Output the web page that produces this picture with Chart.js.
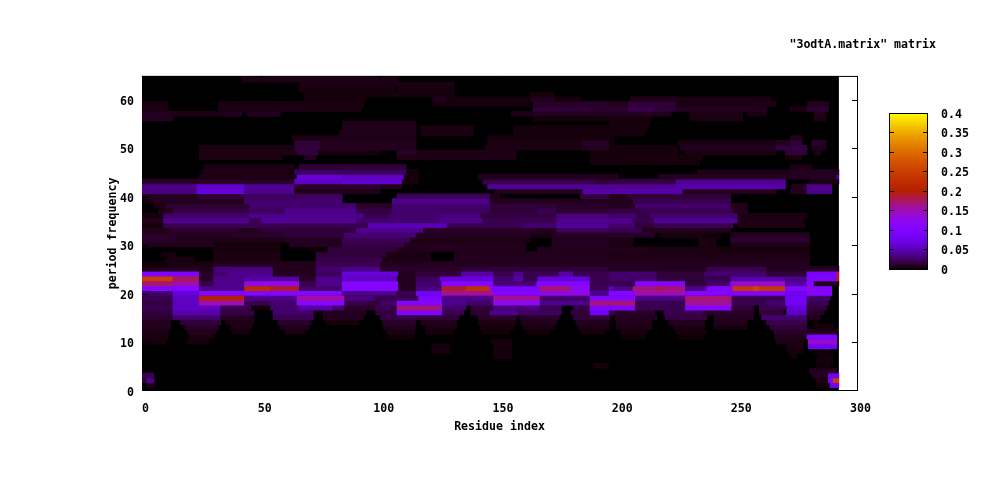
<!DOCTYPE html>
<html>
<head>
<meta charset="utf-8">
<title>3odtA.matrix</title>
<script src="https://cdn.jsdelivr.net/npm/chart.js@4"></script>
<style>
  body { margin: 0; background: #fff; }
  #heatmap { position: absolute; left: 0; top: 0; }
  #colorbox { position: absolute; left: 880px; top: 90px; }
</style>
</head>
<body>
<canvas id="heatmap" width="1000" height="480"></canvas>
<canvas id="colorbox" width="120" height="200"></canvas>
<script>
const chartTitle = '"3odtA.matrix" matrix';
const xTitle = 'Residue index';
const yTitle = 'period frequency';
const xTicks = [0, 50, 100, 150, 200, 250, 300];
const yTicks = [0, 10, 20, 30, 40, 50, 60];
const cbTicks = [0, 0.05, 0.1, 0.15, 0.2, 0.25, 0.3, 0.35, 0.4];
const residueEnd = 292.4;

// one list per period frequency: [first residue, last residue, value]
const p0 = [[0,1,0]];
const p1 = [[2,5,.008],[283,287.3,.003],[288.7,292.4,.08]];
const p2 = [[0,2,.014],[2,5,.036],[283,288,.005],[288,290,.098],[290,292.4,.25]];
const p3 = [[0,5,.02],[281,288,.008],[288,292.4,.08]];
const p4 = [[280,291.5,.008]];
const p5 = [[189.4,195.7,.003],[283,288.7,.002]];
const p6 = [[283,290,.003]];
const p7 = [[147.5,155,.003],[272,274.7,.002],[284,290,.002]];
const p8 = [[121.6,129.3,.003],[147.5,155,.003],[271,277,.003],[282,288.7,.002]];
const p9 = [[121.6,129.3,.003],[147.5,155,.003],[270.5,277.5,.004],[279.6,291.5,.08]];
const p10 = [[0,10,.003],[19,28,.003],[146.7,155,.003],[266,277.5,.005],[279.6,291.5,.14]];
const p11 = [[0,11,.004],[20,30,.004],[103.4,114,.002],[201,211,.002],[225,235.5,.002],[265.6,279,.007],[279,291.5,.098]];
const p12 = [[0,11,.005],[19,31,.007],[38,45,.003],[60,68,.004],[102.7,114.6,.004],[119,130.7,.003],[143,154,.002],[161.4,171,.002],[184,194,.003],[200.6,212,.003],[224,237,.003],[265,279,.01],[279,292,.007]];
const p13 = [[0,12,.007],[18,32,.01],[37,46,.004],[58,70,.007],[101.3,114.6,.007],[119,132,.004],[142,156,.003],[160,173,.004],[183,196,.005],[199,214,.005],[223,236,.004],[240,254,.003],[263.5,279,.014],[282,290,.003]];
const p14 = [[0,12,.008],[16,33,.015],[35,47,.005],[57,71,.011],[77,91,.003],[101,115,.01],[117,132,.007],[141,157,.005],[159,174,.007],[182,196,.008],[199,214,.007],[221,236,.008],[240,254,.007],[262,279,.02],[282,284,.003]];
const p15 = [[0,13,.012],[13,33,.028],[33,47,.008],[55,72,.02],[76,93,.007],[100,116,.017],[116,133,.014],[141,157,.01],[158.6,175,.01],[181,196.4,.014],[198.5,216,.008],[219.5,237,.017],[240,256.5,.008],[260,279,.028],[280,284.5,.008]];
const p16 = [[0,13,.015],[13,33,.045],[33,47,.017],[55,72,.028],[72,76,.002],[76,94,.008],[98,107,.017],[107,126,.098],[126,135,.02],[138,146,.012],[146,158,.036],[158,176,.024],[180,188,.014],[188,196,.08],[196,198.5,.02],[198.5,215,.01],[219,235.5,.02],[236,256.5,.01],[259,269,.014],[270.5,279,.055],[279,286,.01]];
const p17 = [[0,13,.02],[13,33,.055],[33,46,.02],[46,54,.002],[54,66,.028],[66,80,.045],[80,85,.028],[85,98,.01],[98,107,.02],[107,126,.17],[126,136,.028],[138,147.5,.014],[147.5,167,.032],[167,176,.02],[181,188,.017],[188,207,.098],[207,228,.02],[228,247.5,.105],[247.5,256.5,.014],[259,270,.02],[270.5,279,.065],[279,287.3,.014]];
const p18 = [[0,13,.017],[13,24,.055],[24,43,.15],[43,54,.02],[54,65,.028],[65,85,.108],[85,95,.02],[95,100,.014],[100,107,.028],[107,126,.105],[126,136,.036],[136,147.5,.028],[147.5,167,.12],[167,178,.036],[178,188,.036],[188,207,.17],[207,228,.02],[228,247.5,.16],[247.5,262,.02],[262,270,.028],[270,279,.08],[279,288,.02]];
const p19 = [[0,13,.02],[13,24,.055],[24,43,.2],[43,65,.036],[65,85,.155],[85,98,.032],[98,116,.02],[116,125.8,.098],[125.8,147.5,.036],[147.5,167,.16],[167,188,.028],[188,207,.105],[207,228,.036],[228,247.5,.17],[247.5,270,.02],[270,279,.08],[279,288.7,.028]];
const p20 = [[0,13,.028],[13,24,.065],[24,84,.105],[84,107,.036],[107,115,.02],[115,125.8,.08],[125.8,147.5,.16],[147.5,167,.105],[167,188,.125],[188,196,.036],[196,207,.105],[207,228,.15],[228,270,.105],[270,279,.08],[279,289.4,.105]];
const p21 = [[0,24,.105],[24,43,.036],[43,54,.22],[54,66,.19],[66,84,.028],[84,107.6,.105],[107.6,115,.008],[115,125.8,.032],[125.8,136,.19],[136,146,.23],[146,147.5,.105],[147.5,167,.098],[167,180,.17],[180,188,.12],[188,196,.024],[196,198,.055],[198,206,.036],[206,228,.17],[216,218,.185],[228,237,.036],[237,248,.105],[248,270,.24],[256.5,259,.26],[270,279,.105],[279,280.5,.14],[280.5,289.4,.105]];
const p22 = [[0,13,.17],[13,24,.15],[24,30,.02],[30,43,.036],[43,66,.13],[66,73,.02],[73,84,.036],[84,107.6,.105],[107.6,115,.008],[115,125.8,.028],[125.8,147.5,.105],[147.5,165.6,.032],[165.6,188,.105],[188,207,.02],[207,228,.105],[228,237,.014],[237,247,.028],[247,270,.14],[270,279,.045],[279,282,.105],[282,292.4,.007]];
const p23 = [[0,13,.25],[13,24,.18],[24,30,.01],[30,43,.036],[43,66,.045],[66,73,.01],[73,84,.036],[84,107,.055],[107,115,.008],[115,125,.024],[125,147.5,.065],[147.5,156,.028],[156,160,.045],[160,166,.02],[166,188,.065],[188,196,.02],[196,216,.028],[216,236,.014],[236,247,.02],[247,270,.045],[270,279,.036],[279,291.5,.098],[291.5,292.4,.2]];
const p24 = [[0,24,.098],[24,30,.01],[30,36,.028],[36,55,.036],[55,73,.008],[73,84,.024],[84,107.6,.065],[107.6,115,.008],[115,134,.014],[134,147.5,.045],[147.5,156,.02],[156,160,.036],[160,175,.02],[175,181,.045],[181,196,.02],[196,216,.028],[216,236,.014],[236,262,.028],[262,279,.014],[279,291.5,.09],[291.5,292.4,.18]];
const p25 = [[0,7,.005],[7,30,.007],[30,55,.032],[55,73,.007],[73,84,.028],[84,100,.036],[100,134,.01],[134,196,.014],[196,237,.008],[237,262,.02],[262,292.4,.008]];
const p26 = [[0,10,.002],[10,30,.004],[30,56,.008],[56,73,.007],[73,100,.02],[100,280,.008]];
const p27 = [[10,22,.004],[30,58,.005],[73,101,.019],[101,121,.005],[131,196,.008],[196,280,.007]];
const p28 = [[8,14,.003],[30,58,.004],[73,102.7,.014],[102.7,121,.004],[131,196,.007],[196,280,.005]];
const p29 = [[30,58,.003],[70,78,.001],[78,107,.015],[107,161,.007],[166,212,.007],[212,243,.004],[243,280,.003]];
const p30 = [[0,30,.007],[30,58,.003],[62,84,.008],[84,110,.018],[110,161,.007],[172,196,.008],[196,206,.004],[233.5,241,.004],[247,280,.005]];
const p31 = [[0,14,.01],[14,30,.007],[30,60,.005],[60,84,.008],[84,112.5,.022],[112.5,163,.005],[172,196,.008],[196,206,.005],[233.5,241,.004],[247,280,.012]];
const p32 = [[0,15,.01],[15,38,.008],[38,60,.01],[60,85,.014],[85,115,.03],[115,163,.008],[163,172.6,.004],[172.6,215,.009],[217,236,.004],[236,243,.002],[247,280,.008]];
const p33 = [[0,13,.007],[13,40,.012],[40,50,.008],[50,90,.014],[90,118,.038],[118,166,.01],[166,174,.007],[174,196,.024],[196,210,.02],[210,247,.008]];
const p34 = [[0,9,.003],[9,95,.02],[95,128,.05],[128,160,.02],[160,174,.028],[174,196,.04],[196,207,.028],[207,215,.014],[215,248,.02],[250,278,.005]];
const p35 = [[0,9,.007],[9,45,.036],[45,50,.02],[50,90,.04],[90,125,.028],[125,143,.036],[143,174,.02],[174,206,.038],[206,215,.02],[215,250,.04],[250,277.5,.005]];
const p36 = [[0,9,.003],[9,45,.028],[45,93,.036],[93,104,.02],[104,125,.028],[125,142,.032],[142,174,.017],[174,196,.032],[196,207.6,.028],[207.6,213,.017],[213,250,.028],[250,279,.004]];
const p37 = [[7,13,.007],[13,45,.017],[45,60,.024],[60,90,.036],[90,105,.017],[105,125,.028],[125,146,.024],[146,166,.014],[166,174,.02],[174,196,.012],[196,209,.017],[209,248,.02],[248,254,.007]];
const p38 = [[5,10,.005],[10,45,.012],[45,90,.028],[90,105,.01],[105,146,.028],[146,174,.014],[174,196,.01],[196,207,.008],[207,247,.028],[247,254,.007]];
const p39 = [[1,5,.003],[5,43,.008],[43,84,.028],[105,146,.036],[146,167,.008],[167,185,.007],[185,196,.008],[196,206,.007],[206,247,.02]];
const p40 = [[0,24,.008],[24,43,.014],[43,84,.024],[107,146,.023],[146,150,.007],[184,196,.017],[196,204,.008],[204,247,.014]];
const p41 = [[0,23,.032],[23,43,.065],[43,64,.036],[64,100,.007],[148,185,.008],[185,227,.045],[227,266,.008],[272,279,.008],[279,289.4,.036]];
const p42 = [[0,23,.036],[23,43,.06],[43,64,.04],[64,100,.01],[100,109,.007],[145,224,.04],[224,270,.045],[272.6,279,.007],[279,289.4,.036]];
const p43 = [[0,64,.01],[64,84,.055],[84,109,.06],[110,116,.003],[143,191,.02],[191,196,.014],[196,224,.017],[224,270,.04],[280,292.4,.004]];
const p44 = [[24,64,.005],[65,84,.065],[84,110,.055],[110,116,.003],[141,200,.007],[217,292,.008],[291.5,292.4,.036]];
const p45 = [[25,62,.005],[64,111,.024],[111,116,.003],[233,272,.005],[272,292.4,.008]];
const p46 = [[26,64,.005],[66,111,.014],[272,281,.005]];
const p47 = [[188,234,.003]];
const p48 = [[24,59,.004],[68,73,.008],[107,157,.005],[188,235,.003],[270,277,.003]];
const p49 = [[24,65,.005],[65,74,.014],[74,100,.003],[107,115,.01],[115,157,.005],[188,225,.003],[228,266,.004],[270,279,.014],[282,285,.005]];
const p50 = [[24,64,.004],[64,75,.014],[75,115,.007],[144,185,.005],[185,196,.008],[196,225,.003],[226,237,.008],[237,266,.007],[266,279,.017],[281,287,.007]];
const p51 = [[64,75,.014],[75,115,.008],[145,185,.004],[185,196,.01],[196,198,.003],[225,266,.004],[266,272,.008],[272,277,.014],[281,287,.01]];
const p52 = [[63,115,.005],[145,198,.003],[272,277,.007]];
const p53 = [[83,115,.006],[117,139,.004],[156,211,.003]];
const p54 = [[84,115,.006],[117,139,.004],[156,212,.003]];
const p55 = [[84,115,.005],[196,213,.003]];
const p56 = [[0,13,.008],[164,214,.003],[230,252,.004],[282,287,.005]];
const p57 = [[0,13,.008],[13,34,.005],[34,42,.008],[44,58,.008],[155,164,.005],[164,215,.008],[215,222,.007],[230,252,.005],[254,262,.004],[282,287,.007]];
const p58 = [[0,11,.004],[32,92,.004],[164,188,.014],[188,204,.011],[204,215,.02],[215,224,.014],[224,262,.008],[272,279,.004],[279,288,.012]];
const p59 = [[0,11,.004],[32,93,.004],[122,163,.003],[164,196,.01],[196,204,.008],[204,224,.014],[224,254,.004],[254,266,.005],[279,288,.008]];
const p60 = [[68,94,.003],[122,128,.007],[128,184,.003],[163,173,.008],[205,225,.007],[225,264,.004]];
const p61 = [[68,131,.003],[163,173,.003]];
const p62 = [[66,106,.003],[107,131,.003]];
const p63 = [[66,131,.004]];
const p64 = [[42,107,.005]];
const periods = [p0,p1,p2,p3,p4,p5,p6,p7,p8,p9,p10,p11,p12,p13,p14,p15,p16,p17,p18,p19,p20,p21,p22,p23,p24,p25,p26,p27,p28,p29,p30,p31,p32,p33,p34,p35,p36,p37,p38,p39,p40,p41,p42,p43,p44,p45,p46,p47,p48,p49,p50,p51,p52,p53,p54,p55,p56,p57,p58,p59,p60,p61,p62,p63,p64];

Chart.defaults.font.family = '"DejaVu Sans Mono", monospace';
Chart.defaults.font.size = 11.6;
Chart.defaults.font.weight = 'bold';
Chart.defaults.color = '#000';
Chart.defaults.animation = false;
Chart.defaults.plugins.legend.display = false;
Chart.defaults.plugins.tooltip.enabled = false;

// gnuplot default pm3d palette (rgbformulae 7,5,15)
function palette(v) {
  const t = Math.min(1, Math.max(0, v / 0.4));
  const r = Math.sqrt(t);
  const g = t * t * t;
  const b = Math.max(0, Math.sin(2 * Math.PI * t));
  return `rgb(${Math.round(r * 255)},${Math.round(g * 255)},${Math.round(b * 255)})`;
}

function hline(ctx, x0, x1, y) {
  ctx.beginPath();
  ctx.moveTo(x0, y);
  ctx.lineTo(x1, y);
  ctx.stroke();
}

function vline(ctx, x, y0, y1) {
  ctx.beginPath();
  ctx.moveTo(x, y0);
  ctx.lineTo(x, y1);
  ctx.stroke();
}

const cells = [];
periods.forEach((runs, period) => {
  runs.forEach(run => cells.push({ x: [run[0], run[1]], y: period + 0.2, v: run[2] }));
});

// frame and black matrix go under the runs, the inward ticks go over them
const gnuplotFrame = {
  id: 'gnuplotFrame',
  beforeDatasetsDraw(chart) {
    const { ctx, chartArea: a, scales } = chart;
    ctx.save();
    ctx.strokeStyle = '#000';
    ctx.lineWidth = 1;
    ctx.strokeRect(a.left + 0.5, a.top + 0.5, a.right - a.left, a.bottom - a.top - 1);
    ctx.fillStyle = palette(0);
    ctx.fillRect(a.left, a.top, scales.x.getPixelForValue(residueEnd) - a.left, a.bottom - a.top);
    ctx.restore();
  },
  afterDatasetsDraw(chart) {
    const { ctx, chartArea: a, scales } = chart;
    ctx.save();
    ctx.strokeStyle = '#000';
    ctx.lineWidth = 1;
    yTicks.forEach(v => {
      const y = Math.min(Math.floor(scales.y.getPixelForValue(v)) + 0.5, a.bottom - 0.5);
      hline(ctx, a.left, a.left + 6, y);
      hline(ctx, a.right - 5, a.right + 1, y);
    });
    xTicks.forEach(v => {
      const x = Math.floor(scales.x.getPixelForValue(v)) + 0.5;
      vline(ctx, x, a.bottom - 6, a.bottom);
      vline(ctx, x, a.top, a.top + 6);
    });
    ctx.restore();
  }
};

new Chart(document.getElementById('heatmap'), {
  type: 'bar',
  data: {
    datasets: [{
      data: cells,
      backgroundColor: c => palette(c.raw ? c.raw.v : 0),
      barPercentage: 1,
      categoryPercentage: 1
    }]
  },
  options: {
    responsive: false,
    indexAxis: 'y',
    layout: { padding: { right: 64 } },
    plugins: {
      title: {
        display: true,
        text: chartTitle,
        align: 'end',
        font: { weight: 'bold', size: 11.6 },
        padding: { top: 38, bottom: 24 }
      }
    },
    scales: {
      x: {
        type: 'linear',
        min: 0,
        max: 300,
        grid: { display: false, drawTicks: false },
        border: { display: false },
        afterBuildTicks: axis => { axis.ticks = xTicks.map(v => ({ value: v })); },
        afterFit: axis => { axis.height = 89; },
        ticks: { padding: 11, maxRotation: 0, labelOffset: 3.5 },
        title: { display: true, text: xTitle, padding: { top: 0, bottom: 46 } }
      },
      y: {
        type: 'linear',
        min: 0,
        max: 65,
        offset: false,
        grid: { display: false, drawTicks: false, offset: false },
        border: { display: false },
        afterBuildTicks: axis => { axis.ticks = yTicks.map(v => ({ value: v })); },
        afterFit: axis => { axis.width = 142; },
        ticks: { padding: 8, labelOffset: 1.5 },
        title: { display: true, text: yTitle, padding: { top: 106, bottom: 0 } }
      },
      yRight: {
        type: 'linear',
        position: 'right',
        min: 0,
        max: 65,
        grid: { display: false, drawTicks: false },
        border: { display: false },
        ticks: { display: false },
        afterFit: axis => { axis.width = 79; }
      }
    }
  },
  plugins: [gnuplotFrame]
});

// colour box: one bar over the whole range, filled with the palette
function paletteGradient(c) {
  const { ctx, chartArea: a } = c.chart;
  if (!a) return '#000';
  const g = ctx.createLinearGradient(0, a.bottom, 0, a.top);
  for (let i = 0; i <= 64; i++) g.addColorStop(i / 64, palette(0.4 * i / 64));
  return g;
}

const colorboxFrame = {
  id: 'colorboxFrame',
  afterDatasetsDraw(chart) {
    const { ctx, chartArea: a, scales } = chart;
    ctx.save();
    ctx.strokeStyle = '#000';
    ctx.lineWidth = 1;
    ctx.strokeRect(a.left + 0.5, a.top + 0.5, a.right - a.left, a.bottom - a.top);
    cbTicks.forEach(v => {
      const y = Math.floor(scales.y.getPixelForValue(v)) + 0.5;
      hline(ctx, a.left, a.left + 5, y);
      hline(ctx, a.right - 4, a.right + 1, y);
    });
    ctx.restore();
  }
};

new Chart(document.getElementById('colorbox'), {
  type: 'bar',
  data: {
    labels: ['cb'],
    datasets: [{
      data: [[0, 0.4]],
      backgroundColor: paletteGradient,
      barPercentage: 1,
      categoryPercentage: 1
    }]
  },
  options: {
    responsive: false,
    layout: { padding: { left: 9, top: 23, bottom: 21 } },
    scales: {
      x: { display: false },
      y: {
        position: 'right',
        min: 0,
        max: 0.4,
        grid: { display: false, drawTicks: false },
        border: { display: false },
        afterBuildTicks: axis => { axis.ticks = cbTicks.map(v => ({ value: v })); },
        afterFit: axis => { axis.width = 73; },
        ticks: { padding: 14, labelOffset: 1.5, callback: v => String(v) }
      }
    }
  },
  plugins: [colorboxFrame]
});
</script>
</body>
</html>
